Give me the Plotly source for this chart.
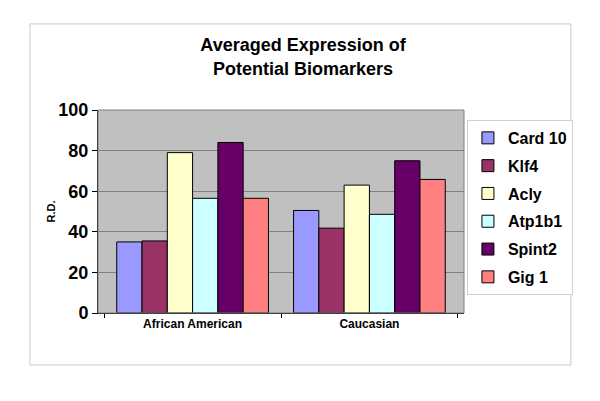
import plotly.graph_objects as go

groups = ['African American', 'Caucasian']
markers = ['Card 10', 'Klf4', 'Acly', 'Atp1b1', 'Spint2', 'Gig 1']
values = {
    'Card 10': [35, 50.5],
    'Klf4': [35.5, 41.8],
    'Acly': [79, 63],
    'Atp1b1': [56.5, 48.6],
    'Spint2': [84, 75],
    'Gig 1': [56.5, 65.8],
}
colors = ['#9999FF', '#993366', '#FFFFCC', '#CCFFFF', '#660066', '#FF8080']
y_ticks = [0, 20, 40, 60, 80, 100]

fig = go.Figure()
for name, color in zip(markers, colors):
    fig.add_trace(go.Bar(
        x=groups,
        y=values[name],
        name=name,
        legendgroup=name,
        marker=dict(color=color, line=dict(color='black', width=1)),
    ))

# plot area: x 98..464, y 110..313 px
fig.update_layout(
    width=600, height=401,
    margin=dict(l=98, r=136, t=110, b=88),
    paper_bgcolor='white',
    plot_bgcolor='#C0C0C0',
    barmode='group',
    bargap=0.142,
    bargroupgap=0,
    font=dict(family='Liberation Sans, Arial, sans-serif', color='black'),
    title=dict(
        text='Averaged Expression of<br>Potential Biomarkers',
        x=0.505, xanchor='center',
        y=0.872, yanchor='middle',
        font=dict(size=18, weight='bold'),
    ),
    legend=dict(
        x=1.008, xanchor='left',
        y=0.951, yanchor='top',
        bgcolor='white',
        bordercolor='#D0D0D0', borderwidth=1,
        font=dict(size=16, weight='bold'),
        traceorder='grouped',
        tracegroupgap=4,
        itemwidth=30,
        itemclick=False,
    ),
    showlegend=True,
)

fig.update_xaxes(
    type='category',
    range=[-0.535, 1.535],
    showline=True, linecolor='black', linewidth=1,
    ticks='outside', tickson='boundaries', ticklen=4, tickcolor='black',
    tickfont=dict(size=12, weight='bold'),
    showgrid=False,
)
fig.update_yaxes(
    range=[0, 100],
    tickvals=y_ticks,
    showline=True, linecolor='black', linewidth=1,
    ticks='outside', ticklen=5, tickcolor='black',
    tickfont=dict(size=18, weight='bold'),
    showgrid=True, gridcolor='#808080', gridwidth=1,
    zeroline=False,
)

fig.add_annotation(
    text='R.D.', textangle=-90,
    xref='paper', yref='paper', x=-0.153, y=0.5,
    showarrow=False, font=dict(size=11, weight='bold'),
)

# plot area outline
fig.add_shape(type='rect', xref='paper', yref='paper', x0=0, y0=0, x1=1, y1=1,
              line=dict(color='#808080', width=1))
# chart outer border
fig.add_shape(type='rect', xref='paper', yref='paper',
              x0=-0.186, y0=-0.256, x1=1.292, y1=1.424,
              line=dict(color='#C8C8C8', width=1))

fig.write_html('out.html', config={'displayModeBar': False},
               post_script="document.body.style.margin='0';")
